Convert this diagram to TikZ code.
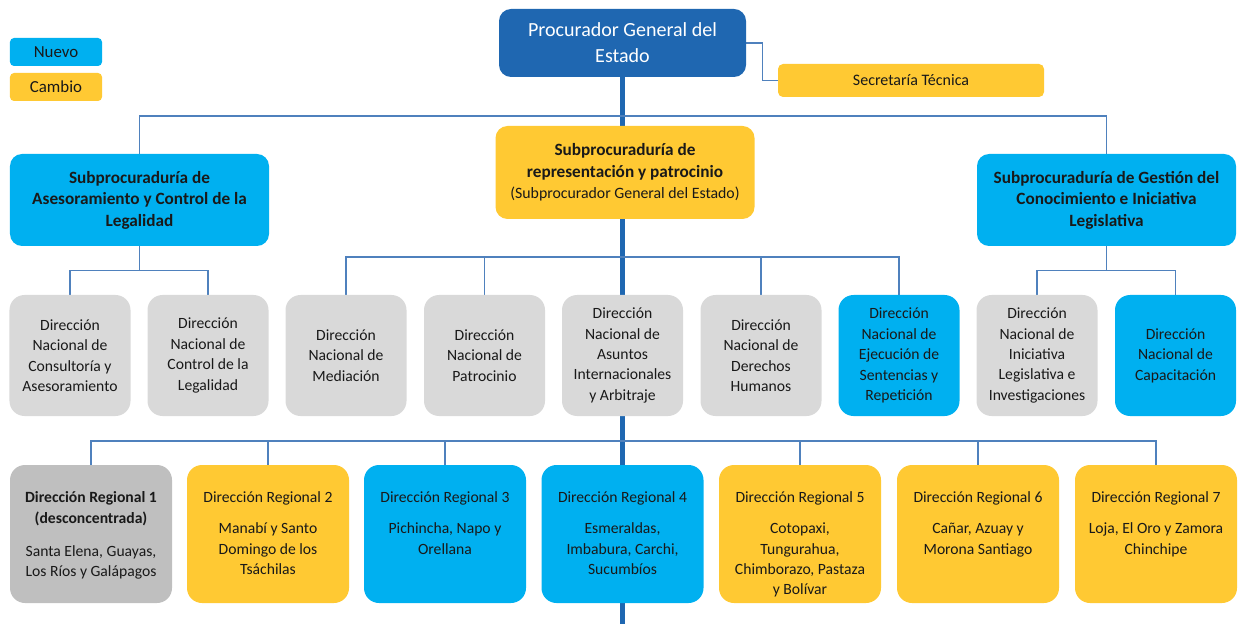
\documentclass[tikz,border=0pt]{standalone}
\usepackage{fontspec}
\setmainfont{Carlito}
\usetikzlibrary{positioning}
\usetikzlibrary{backgrounds}

\definecolor{pgeblue}{RGB}{31,103,177}
\definecolor{newcyan}{RGB}{0,176,240}
\definecolor{chgyellow}{RGB}{255,201,51}
\definecolor{oldgray}{RGB}{217,217,217}
\definecolor{deskgray}{RGB}{191,191,191}
\definecolor{linkblue}{RGB}{79,129,189}

\tikzset{
    box/.style={rounded corners=0.24cm, inner sep=0pt, align=center, text=black!90},
    legendbox/.style={box, rounded corners=0.08cm, minimum width=1.84cm, minimum height=0.56cm, font=\fontsize{9.6}{11}\selectfont},
    subbox/.style={box, minimum width=5.18cm, minimum height=1.84cm, font=\fontsize{9.8}{12.2}\selectfont\bfseries},
    dirbox/.style={box, rounded corners=0.3cm, minimum width=2.42cm, minimum height=2.42cm, font=\fontsize{8.9}{11.6}\selectfont},
    regbox/.style={box, rounded corners=0.3cm, minimum width=3.24cm, minimum height=2.76cm},
    regtext/.style={align=center, inner sep=0pt, text=black!90, font=\fontsize{8.9}{11.6}\selectfont},
    link/.style={draw=linkblue, line width=0.7pt},
    spine/.style={draw=pgeblue, line width=3.4pt}
}

\begin{document}
\begin{tikzpicture}
    \useasboundingbox (0,0) rectangle (24.86,-12.48);

    % Legend
    \node[legendbox, fill=newcyan] (nuevo) at (1.12,-1.04) {Nuevo};
    \node[legendbox, fill=chgyellow] (cambio) at (1.12,-1.74) {Cambio};

    % Top
    \node[box, fill=pgeblue, text=white, minimum width=4.94cm, minimum height=1.36cm,
          font=\fontsize{11.4}{14.7}\selectfont] (proc) at (12.45,-0.86) {Procurador General del\\Estado};
    \node[box, fill=chgyellow, rounded corners=0.1cm, minimum width=5.32cm, minimum height=0.66cm,
          font=\fontsize{9.1}{11}\selectfont] (sec) at (18.22,-1.61) {Secretaría Técnica};

    % Subprocuradurias
    \node[subbox, fill=newcyan] (subL) at (2.79,-4.0)
        {Subprocuraduría de\\Asesoramiento y Control de la\\Legalidad};
    \node[subbox, fill=chgyellow, minimum height=1.86cm] (subC) at (12.5,-3.45)
        {Subprocuraduría de\\representación y patrocinio\\{\mdseries\fontsize{9}{12.2}\selectfont (Subprocurador General del Estado)}};
    \node[subbox, fill=newcyan] (subR) at (22.13,-4.0)
        {Subprocuraduría de Gestión del\\Conocimiento e Iniciativa\\Legislativa};

    % Direcciones nacionales
    \node[dirbox, fill=oldgray] (d1) at (1.4,-7.11) {Dirección\\Nacional de\\Consultoría y\\Asesoramiento};
    \node[dirbox, fill=oldgray] (d2) at (4.16,-7.11) {Dirección\\Nacional de\\Control de la\\Legalidad};
    \node[dirbox, fill=oldgray] (d3) at (6.92,-7.11) {Dirección\\Nacional de\\Mediación};
    \node[dirbox, fill=oldgray] (d4) at (9.69,-7.11) {Dirección\\Nacional de\\Patrocinio};
    \node[dirbox, fill=oldgray] (d5) at (12.45,-7.11) {Dirección\\Nacional de\\Asuntos\\Internacionales\\y Arbitraje};
    \node[dirbox, fill=oldgray] (d6) at (15.22,-7.11) {Dirección\\Nacional de\\Derechos\\Humanos};
    \node[dirbox, fill=newcyan] (d7) at (17.98,-7.11) {Dirección\\Nacional de\\Ejecución de\\Sentencias y\\Repetición};
    \node[dirbox, fill=oldgray] (d8) at (20.74,-7.11) {Dirección\\Nacional de\\Iniciativa\\Legislativa e\\Investigaciones};
    \node[dirbox, fill=newcyan] (d9) at (23.51,-7.11) {Dirección\\Nacional de\\Capacitación};

    % Direcciones regionales
    \node[regbox, fill=deskgray] (reg1) at (1.82,-10.68) {};
    \node[regbox, fill=chgyellow] (reg2) at (5.36,-10.68) {};
    \node[regbox, fill=newcyan] (reg3) at (8.9,-10.68) {};
    \node[regbox, fill=newcyan] (reg4) at (12.45,-10.68) {};
    \node[regbox, fill=chgyellow] (reg5) at (16.0,-10.68) {};
    \node[regbox, fill=chgyellow] (reg6) at (19.56,-10.68) {};
    \node[regbox, fill=chgyellow] (reg7) at (23.12,-10.68) {};

    \node[regtext, below=0.54cm of reg1.north] (reg1t)
        {\textbf{Dirección Regional 1}\\\textbf{(desconcentrada)}\\[7pt]Santa Elena, Guayas,\\Los Ríos y Galápagos};
    \node[regtext, below=0.54cm of reg2.north] (reg2t)
        {Dirección Regional 2\\[6pt]Manabí y Santo\\Domingo de los\\Tsáchilas};
    \node[regtext, below=0.54cm of reg3.north] (reg3t)
        {Dirección Regional 3\\[6pt]Pichincha, Napo y\\Orellana};
    \node[regtext, below=0.54cm of reg4.north] (reg4t)
        {Dirección Regional 4\\[6pt]Esmeraldas,\\Imbabura, Carchi,\\Sucumbíos};
    \node[regtext, below=0.54cm of reg5.north] (reg5t)
        {Dirección Regional 5\\[6pt]Cotopaxi,\\Tungurahua,\\Chimborazo, Pastaza\\y Bolívar};
    \node[regtext, below=0.54cm of reg6.north] (reg6t)
        {Dirección Regional 6\\[6pt]Cañar, Azuay y\\Morona Santiago};
    \node[regtext, below=0.54cm of reg7.north] (reg7t)
        {Dirección Regional 7\\[6pt]Loja, El Oro y Zamora\\Chinchipe};

    \coordinate (bottom) at (12.45,-12.48);

    % Connectors
    \begin{scope}[on background layer]
        \draw[spine] (proc.south) -- (bottom);
        \draw[link] (proc.east) -- ++(0.32,0) |- (sec.west);
        \draw[link] (subL.north) |- (12.45,-2.32) -| (subR.north);

        \draw[link] (subL.south) -- ++(0,-0.48) coordinate (busL);
        \draw[link] (d1.north) |- (busL) -| (d2.north);

        \coordinate (busC) at (12.45,-5.14);
        \draw[link] (d3.north) |- (busC) -| (d7.north);
        \foreach \n in {d4,d6}
            \draw[link] (\n.north) -- (\n.north |- busC);

        \draw[link] (subR.south) -- ++(0,-0.48) coordinate (busR);
        \draw[link] (d8.north) |- (busR) -| (d9.north);

        \coordinate (busReg) at (12.45,-8.82);
        \draw[link] (reg1.north) |- (busReg) -| (reg7.north);
        \foreach \n in {reg2,reg3,reg5,reg6}
            \draw[link] (\n.north) -- (\n.north |- busReg);
    \end{scope}
\end{tikzpicture}
\end{document}
